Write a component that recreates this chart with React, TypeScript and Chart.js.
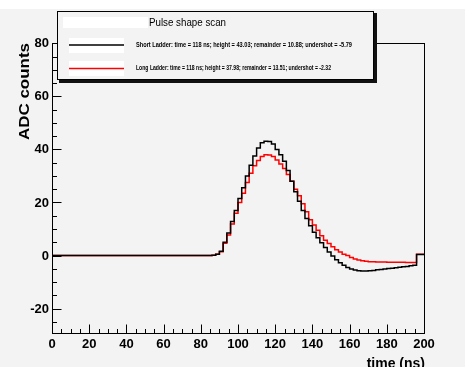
import React, { useEffect, useRef } from "react";
import { Chart, registerables } from "chart.js";

Chart.register(...registerables);

const W = 467;
const H = 367;
const BG = "#f3f3f3";

const BIN_WIDTH = 2; // ns per histogram bin, 100 bins over 0..200 ns

// Short ladder (black), bins of 2 ns starting at t = 0
const shortLadder = [
  0, 0, 0, 0, 0, 0, 0, 0, 0, 0,
  0, 0, 0, 0, 0, 0, 0, 0, 0, 0,
  0, 0, 0, 0, 0, 0, 0, 0, 0, 0,
  0, 0, 0, 0, 0, 0, 0, 0, 0, 0,
  0, 0, 0, 0, 0.1, 0.5, 1.6, 5.0, 8.5, 12.8,
  17.0, 21.5, 25.5, 30.0, 34.0, 37.5, 40.5, 42.5, 43.1, 43.0,
  42.0, 40.0, 38.0, 35.5, 32.0, 28.0, 24.0, 20.5, 17.0, 14.0,
  11.2, 8.8, 6.7, 4.8, 3.0, 1.3, -0.2, -1.6, -2.7, -3.7,
  -4.5, -5.1, -5.5, -5.7, -5.8, -5.8, -5.7, -5.6, -5.4, -5.25,
  -5.1, -4.9, -4.75, -4.6, -4.4, -4.25, -4.1, -3.9, -3.7, 0.4,
];

// Long ladder (red)
const longLadder = [
  0, 0, 0, 0, 0, 0, 0, 0, 0, 0,
  0, 0, 0, 0, 0, 0, 0, 0, 0, 0,
  0, 0, 0, 0, 0, 0, 0, 0, 0, 0,
  0, 0, 0, 0, 0, 0, 0, 0, 0, 0,
  0, 0, 0, 0, 0.1, 0.45, 1.4, 4.6, 7.7, 11.9,
  15.9, 20.0, 23.5, 27.5, 31.0, 33.8, 35.8, 37.3, 38.0, 37.9,
  37.3, 36.0, 34.5, 32.8, 30.5, 28.0, 25.0, 22.5, 19.5, 16.5,
  13.5, 11.5, 9.5, 7.5, 5.8, 4.5, 3.3, 2.2, 1.3, 0.5,
  0.0, -0.7, -1.3, -1.7, -2.0, -2.2, -2.3, -2.35, -2.4, -2.4,
  -2.45, -2.5, -2.5, -2.5, -2.55, -2.55, -2.6, -2.6, -2.6, 0.5,
];

const xTickLabels = [0, 20, 40, 60, 80, 100, 120, 140, 160, 180, 200];
const yTickLabels = [-20, 0, 20, 40, 60, 80];
const MINOR_STEP = 5;
const X_MIN = 0;
const X_MAX = 200;
const Y_MIN = -29.2;
const Y_MAX = 80.1;

const xTitle = "time (ns)";
const yTitle = "ADC counts";
const legendTitle = "Pulse shape scan";
const seriesLabels = [
  "Short Ladder: time = 118 ns; height = 43.03; remainder = 10.88; undershot = -5.79",
  "Long Ladder: time = 118 ns; height = 37.98; remainder = 13.51; undershot = -2.32",
];
const seriesColors = ["#000000", "#ff0000"];

function toSteps(vals: number[]) {
  const pts = vals.map((v, i) => ({ x: i * BIN_WIDTH, y: v }));
  pts.push({ x: vals.length * BIN_WIDTH, y: vals[vals.length - 1] });
  return pts;
}

function fitText(
  ctx: CanvasRenderingContext2D,
  text: string,
  x: number,
  y: number,
  width: number
) {
  const m = ctx.measureText(text).width;
  const s = width / m;
  ctx.save();
  ctx.translate(x, y);
  ctx.scale(s, 1);
  ctx.textAlign = "left";
  ctx.fillText(text, 0, 0);
  ctx.restore();
}

const rootPlugin = {
  id: "rootStyle",
  beforeDraw(chart: any) {
    const ctx = chart.ctx as CanvasRenderingContext2D;
    ctx.save();
    ctx.fillStyle = "#ffffff";
    ctx.fillRect(0, 0, W, H);
    ctx.fillStyle = BG;
    ctx.fillRect(0, 9, 465, H - 9);
    ctx.restore();
  },
  afterDatasetsDraw(chart: any) {
    const ctx = chart.ctx as CanvasRenderingContext2D;
    const a = chart.chartArea;
    const xs = chart.scales.x;
    const ys = chart.scales.y;
    ctx.save();

    // frame
    ctx.strokeStyle = "#000";
    ctx.lineWidth = 1;
    const L = Math.round(a.left) + 0.5;
    const R = Math.round(a.right) + 0.5;
    const T = Math.round(a.top) + 0.5;
    const B = Math.round(a.bottom) + 0.5;
    ctx.strokeRect(L, T, R - L, B - T);

    // y ticks (inward)
    ctx.beginPath();
    for (let v = Math.ceil(Y_MIN / MINOR_STEP) * MINOR_STEP; v <= Y_MAX; v += MINOR_STEP) {
      const py = Math.round(ys.getPixelForValue(v)) + 0.5;
      const major = yTickLabels.includes(v);
      ctx.moveTo(L, py);
      ctx.lineTo(L + (major ? 9 : 4.5), py);
    }
    // x ticks (inward)
    for (let v = X_MIN; v <= X_MAX; v += MINOR_STEP) {
      const px = Math.round(xs.getPixelForValue(v)) + 0.5;
      const major = xTickLabels.includes(v);
      ctx.moveTo(px, B);
      ctx.lineTo(px, B - (major ? 9 : 4.5));
    }
    ctx.stroke();

    // tick labels
    ctx.fillStyle = "#000";
    ctx.font = "bold 13px 'Liberation Sans', Arial, sans-serif";
    ctx.textAlign = "right";
    ctx.textBaseline = "middle";
    for (const v of yTickLabels) {
      ctx.fillText(String(v), 49, ys.getPixelForValue(v) + 0.5);
    }
    ctx.textAlign = "center";
    for (const v of xTickLabels) {
      ctx.fillText(String(v), xs.getPixelForValue(v), 344);
    }

    // axis titles
    ctx.font = "bold 14px 'Liberation Sans', Arial, sans-serif";
    ctx.textAlign = "right";
    ctx.textBaseline = "alphabetic";
    ctx.fillText(xTitle, 425, 368);

    ctx.save();
    ctx.translate(28.5, 43);
    ctx.rotate(-Math.PI / 2);
    const m = ctx.measureText(yTitle).width;
    ctx.scale(97 / m, 1);
    ctx.textAlign = "right";
    ctx.fillText(yTitle, 0, 0);
    ctx.restore();

    // legend box with shadow
    const lx = 57, ly = 11, lw = 317, lh = 69;
    ctx.fillStyle = "#111";
    ctx.fillRect(lx + 2, ly + 2, lw + 1, lh + 1);
    ctx.fillStyle = BG;
    ctx.fillRect(lx, ly, lw, lh);
    ctx.strokeStyle = "#000";
    ctx.lineWidth = 1;
    ctx.strokeRect(lx + 0.5, ly + 0.5, lw - 1, lh - 1);

    // white patches
    ctx.fillStyle = "#ffffff";
    ctx.fillRect(63, 17, 85, 11);
    ctx.fillRect(69, 38, 55, 15);
    ctx.fillRect(69, 61, 55, 15);

    // title
    ctx.fillStyle = "#000";
    ctx.font = "10px 'Liberation Sans', Arial, sans-serif";
    ctx.textBaseline = "middle";
    fitText(ctx, legendTitle, 149, 23.5, 77);

    // entries
    const rowsY = [45, 68.5];
    const widths = [216, 195];
    ctx.font = "bold 7px 'Liberation Sans', Arial, sans-serif";
    for (let i = 0; i < 2; i++) {
      ctx.strokeStyle = seriesColors[i];
      ctx.lineWidth = 1.3;
      ctx.beginPath();
      ctx.moveTo(69, rowsY[i]);
      ctx.lineTo(124, rowsY[i]);
      ctx.stroke();
      ctx.fillStyle = "#000";
      fitText(ctx, seriesLabels[i], 136, rowsY[i], widths[i]);
    }

    ctx.restore();
  },
};

export default function App() {
  const ref = useRef<HTMLCanvasElement | null>(null);
  useEffect(() => {
    document.body.style.margin = "0";
    if (!ref.current) return;
    const chart = new Chart(ref.current, {
      type: "line",
      data: {
        datasets: [
          {
            label: seriesLabels[0],
            data: toSteps(shortLadder),
            borderColor: seriesColors[0],
            borderWidth: 1.5,
            stepped: "after",
            pointRadius: 0,
            fill: false,
          },
          {
            label: seriesLabels[1],
            data: toSteps(longLadder),
            borderColor: seriesColors[1],
            borderWidth: 1.5,
            stepped: "after",
            pointRadius: 0,
            fill: false,
          },
        ],
      },
      options: {
        animation: false,
        responsive: false,
        events: [],
        layout: { padding: { left: 52, right: 43, top: 43, bottom: 34 } },
        scales: {
          x: { type: "linear", min: X_MIN, max: X_MAX, display: false },
          y: { type: "linear", min: Y_MIN, max: Y_MAX, display: false },
        },
        plugins: {
          legend: { display: false },
          tooltip: { enabled: false },
          title: { display: false },
        },
      },
      plugins: [rootPlugin],
    });
    return () => chart.destroy();
  }, []);
  return <canvas ref={ref} width={W} height={H} style={{ display: "block" }} />;
}
